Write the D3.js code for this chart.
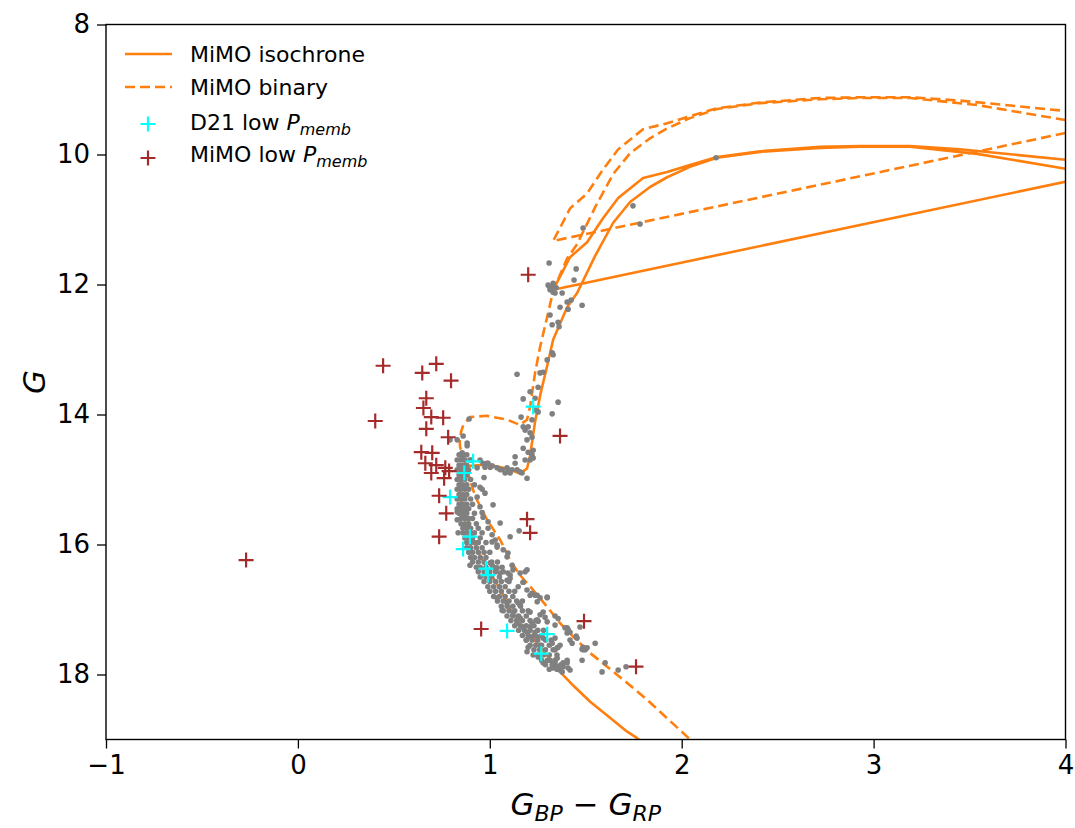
<!DOCTYPE html>
<html>
<head>
<meta charset="utf-8">
<script src="https://cdn.jsdelivr.net/npm/d3@7"></script>
<style>
body { margin: 0; background: #fff; }
svg text { font-family: "DejaVu Sans", sans-serif; fill: #000; }
</style>
</head>
<body>
<div id="cmd"></div>
<script>
// isochrone track [BP-RP, G] in path order (MS -> RGB -> tip, then clump -> AGB)
const isochrone = [
	[1.89, 19.30], [1.768, 18.98], [1.716, 18.88], [1.612, 18.63], [1.523, 18.42], [1.435, 18.17],
	[1.366, 17.96], [1.299, 17.71], [1.226, 17.45], [1.157, 17.22], [1.106, 16.99], [1.054, 16.68],
	[0.986, 16.37], [0.934, 16.07], [0.913, 15.91], [0.877, 15.56], [0.845, 15.25], [0.843, 15.15],
	[0.850, 15.02], [0.862, 14.91], [0.897, 14.79], [0.986, 14.77], [1.090, 14.83], [1.157, 14.91],
	[1.194, 14.83], [1.210, 14.63], [1.236, 14.11], [1.262, 13.71], [1.299, 13.25], [1.330, 12.85],
	[1.403, 12.35], [1.455, 12.13], [1.549, 11.56], [1.643, 11.05], [1.731, 10.73], [1.835, 10.50],
	[1.924, 10.35], [2.043, 10.19], [2.184, 10.05], [2.408, 9.96], [2.720, 9.90], [2.929, 9.88],
	[3.190, 9.88], [3.540, 9.99], [4.000, 10.22], [4.400, 10.17],
	[1.330, 12.08], [1.366, 11.88], [1.418, 11.58], [1.507, 11.35], [1.590, 10.98], [1.669, 10.67],
	[1.799, 10.36], [1.924, 10.27], [2.043, 10.16], [2.184, 10.04], [2.408, 9.95], [2.720, 9.88],
	[2.929, 9.87], [3.190, 9.87], [3.449, 9.92], [4.000, 10.08], [4.300, 10.13]
];

// equal-mass binary sequence
const binary = [
	[2.10, 19.12], [2.044, 19.00], [1.820, 18.39], [1.716, 18.13], [1.612, 17.88], [1.523, 17.67],
	[1.435, 17.42], [1.366, 17.21], [1.299, 16.96], [1.226, 16.70], [1.157, 16.47], [1.106, 16.24],
	[1.054, 15.93], [0.986, 15.62], [0.934, 15.32], [0.913, 15.16], [0.877, 14.81], [0.845, 14.50],
	[0.843, 14.40], [0.850, 14.27], [0.862, 14.16], [0.897, 14.04], [0.986, 14.02], [1.090, 14.08],
	[1.157, 14.16], [1.194, 14.08], [1.210, 13.88], [1.236, 13.36], [1.262, 12.96], [1.299, 12.50],
	[1.330, 12.10], [1.403, 11.60], [1.455, 11.38], [1.549, 10.81], [1.643, 10.30], [1.731, 9.98],
	[1.835, 9.75], [1.924, 9.60], [2.043, 9.44], [2.184, 9.30], [2.408, 9.21], [2.720, 9.15],
	[2.929, 9.13], [3.190, 9.13], [3.540, 9.24], [4.000, 9.47], [4.400, 9.42],
	[1.330, 11.33], [1.366, 11.13], [1.418, 10.83], [1.507, 10.60], [1.590, 10.23], [1.669, 9.92],
	[1.799, 9.61], [1.924, 9.52], [2.043, 9.41], [2.184, 9.29], [2.408, 9.20], [2.720, 9.13],
	[2.929, 9.12], [3.190, 9.12], [3.449, 9.17], [4.000, 9.33], [4.300, 9.38]
];

// cluster members (grey)
const members = [
	// giants, clump, subgiants
	[1.309, 11.67], [1.450, 11.76], [1.439, 11.93], [1.330, 11.98], [1.325, 12.04], [1.314, 12.08],
	[1.330, 12.12], [1.340, 12.13], [1.314, 12.05], [1.304, 12.01], [1.346, 12.05], [1.377, 12.13],
	[1.424, 12.24], [1.403, 12.27], [1.481, 12.32], [1.366, 12.35], [1.408, 12.38], [1.314, 12.47],
	[1.356, 12.58], [1.325, 12.62], [1.361, 12.65], [1.325, 13.05], [1.330, 13.08], [1.299, 13.16],
	[1.278, 13.35], [1.262, 13.36], [1.142, 13.38], [1.252, 13.58], [1.210, 13.65], [1.174, 13.76],
	[1.236, 13.75], [1.356, 13.81], [1.252, 13.96], [1.236, 13.93], [1.325, 13.99], [1.163, 14.04],
	[1.220, 14.08], [1.174, 14.19], [1.200, 14.19], [1.184, 14.24], [1.210, 14.28], [1.220, 14.35],
	[1.194, 14.39], [1.174, 14.52], [1.226, 14.55], [1.200, 14.58], [1.220, 14.62], [1.226, 14.67],
	[1.132, 14.65], [1.184, 14.70], [1.210, 14.70], [1.132, 14.75], [1.090, 14.82], [1.116, 14.85],
	[1.142, 14.85], [1.158, 14.88], [1.064, 14.85], [1.194, 14.98], [1.168, 14.90],
	[1.486, 11.13], [1.746, 10.79], [1.783, 11.07], [2.179, 10.05],
	// turnoff
	[0.892, 14.07], [0.830, 14.39], [0.861, 14.33], [0.882, 14.48], [0.850, 14.62], [0.793, 14.39],
	[0.991, 14.75], [1.012, 14.79], [1.038, 14.82], [1.054, 14.85], [1.080, 14.90], [1.106, 14.90],
	[0.965, 14.75], [0.949, 14.70], [0.975, 14.81], [0.934, 14.82], [0.970, 14.97], [0.949, 15.12],
	[0.960, 15.15], [0.975, 15.21], [0.934, 15.27], [0.949, 15.42], [1.017, 15.39], [0.960, 15.51],
	[0.965, 15.58], [0.991, 15.65], [1.054, 15.67], [0.991, 15.75], [1.012, 15.85], [1.153, 15.79],
	[1.028, 15.93], [1.038, 16.01], [1.070, 16.08], [0.897, 14.70], [0.856, 14.59], [0.856, 14.67],
	[0.882, 14.44], [0.986, 14.75], [1.002, 14.81], [1.095, 14.85], [0.830, 15.62], [0.835, 15.82],
	[0.897, 16.32], [1.106, 15.88], [1.038, 16.04], [1.090, 16.19], [1.116, 16.32], [1.121, 16.39],
	[1.158, 16.44], [1.194, 16.39], [1.038, 16.36], [1.002, 16.28], [1.106, 16.47], [0.830, 15.50],
	[0.861, 15.55],
	// lower main sequence
	[1.095, 16.13], [1.012, 15.96], [1.054, 16.44], [1.106, 16.52], [1.184, 16.42], [1.174, 16.58],
	[1.148, 16.65], [1.194, 16.70], [1.210, 16.78], [1.236, 16.78], [1.262, 16.82], [1.299, 16.82],
	[1.247, 16.88], [1.158, 16.93], [1.262, 17.08], [1.247, 17.16], [1.288, 17.12], [1.340, 17.24],
	[1.403, 17.28], [1.408, 17.35], [1.455, 17.44], [1.486, 17.58], [1.497, 17.62], [1.549, 17.52],
	[1.366, 17.55], [1.340, 17.44], [1.481, 17.78], [1.507, 17.59], [1.601, 17.82], [1.585, 17.96],
	[1.669, 17.93], [1.710, 17.88], [1.403, 17.82], [1.366, 17.93], [1.325, 17.85], [1.351, 17.88],
	[1.200, 17.58], [1.194, 17.65], [1.226, 17.70], [1.252, 17.73], [1.278, 17.82], [1.314, 17.78],
	[1.330, 17.90], [1.377, 17.96], [1.382, 17.82], [1.190, 17.47], [1.210, 17.42], [1.325, 17.52],
	[1.351, 17.59], [1.278, 17.44], [1.262, 17.55], [1.038, 16.82], [1.090, 16.90], [1.064, 17.01],
	[1.121, 17.08], [1.158, 17.13], [1.142, 17.21], [1.174, 17.27], [1.194, 17.35], [1.210, 17.27],
	[1.236, 17.35], [1.247, 17.42], [1.418, 17.47], [1.403, 17.36], [1.356, 17.58], [1.340, 17.62],
	[1.418, 17.93], [1.382, 17.88], [1.340, 17.82], [1.351, 17.75], [1.403, 17.78], [1.299, 17.19],
	[1.340, 17.10], [1.356, 17.14], [1.278, 17.04], [1.252, 17.18], [1.210, 17.04], [1.220, 17.22],
	[1.299, 16.81], [1.247, 16.78], [1.220, 16.75], [1.148, 16.90], [1.090, 16.55], [1.174, 16.58],
	[1.095, 16.44], [1.064, 16.35], [1.012, 16.32], [1.392, 17.28], [1.408, 17.31], [1.418, 17.35],
	[1.470, 17.27], [1.450, 17.41], [1.429, 17.52], [1.486, 17.62], [1.481, 17.61], [1.408, 17.90],
	// dense single-star band
	[0.84, 14.62], [0.86, 14.62], [0.88, 14.62], [0.83, 14.70], [0.85, 14.70], [0.87, 14.70], [0.90, 14.70],
	[0.84, 14.78], [0.86, 14.78], [0.88, 14.78], [0.83, 14.85], [0.85, 14.85], [0.87, 14.85], [0.89, 14.85],
	[0.84, 14.93], [0.86, 14.93], [0.88, 14.93], [0.83, 15.00], [0.85, 15.00], [0.87, 15.00], [0.90, 15.00],
	[0.84, 15.08], [0.86, 15.08], [0.88, 15.08], [0.92, 15.08], [0.83, 15.15], [0.85, 15.15], [0.87, 15.15],
	[0.89, 15.15], [0.84, 15.23], [0.86, 15.23], [0.88, 15.23], [0.83, 15.30], [0.85, 15.30], [0.87, 15.30],
	[0.90, 15.30], [0.84, 15.38], [0.86, 15.38], [0.88, 15.38], [0.91, 15.38], [0.83, 15.45], [0.85, 15.45],
	[0.87, 15.45], [0.89, 15.45], [0.84, 15.52], [0.86, 15.52], [0.88, 15.52], [0.92, 15.52], [0.85, 15.60],
	[0.87, 15.60], [0.89, 15.60], [0.91, 15.60], [0.85, 15.68], [0.87, 15.68], [0.89, 15.68], [0.93, 15.68],
	[0.86, 15.75], [0.88, 15.75], [0.90, 15.75], [0.94, 15.75], [0.86, 15.82], [0.88, 15.82], [0.90, 15.82],
	[0.92, 15.82], [0.96, 15.82], [0.87, 15.90], [0.89, 15.90], [0.91, 15.90], [0.95, 15.90], [0.88, 15.97],
	[0.90, 15.97], [0.92, 15.97], [0.94, 15.97], [0.98, 15.97], [0.88, 16.05], [0.90, 16.05], [0.93, 16.05],
	[0.96, 16.05], [0.89, 16.12], [0.91, 16.12], [0.94, 16.12], [0.97, 16.12], [1.00, 16.12], [0.90, 16.20],
	[0.92, 16.20], [0.95, 16.20], [0.98, 16.20], [0.91, 16.27], [0.94, 16.27], [0.97, 16.27], [1.01, 16.27],
	[1.04, 16.27], [0.93, 16.35], [0.95, 16.35], [0.98, 16.35], [1.02, 16.35], [0.94, 16.42], [0.97, 16.42],
	[1.00, 16.42], [1.03, 16.42], [1.07, 16.42], [0.95, 16.50], [0.98, 16.50], [1.01, 16.50], [1.05, 16.50],
	[0.97, 16.57], [1.00, 16.57], [1.03, 16.57], [1.06, 16.57], [1.10, 16.57], [0.99, 16.65], [1.02, 16.65],
	[1.05, 16.65], [1.08, 16.65], [1.00, 16.72], [1.03, 16.72], [1.06, 16.72], [1.10, 16.72], [1.13, 16.72],
	[1.02, 16.80], [1.05, 16.80], [1.08, 16.80], [1.12, 16.80], [1.04, 16.87], [1.07, 16.87], [1.10, 16.87],
	[1.14, 16.87], [1.17, 16.87], [1.06, 16.95], [1.09, 16.95], [1.12, 16.95], [1.16, 16.95], [1.07, 17.02],
	[1.10, 17.02], [1.13, 17.02], [1.17, 17.02], [1.20, 17.02], [1.09, 17.10], [1.12, 17.10], [1.15, 17.10],
	[1.19, 17.10], [1.11, 17.17], [1.14, 17.17], [1.17, 17.17], [1.21, 17.17], [1.24, 17.17], [1.13, 17.25],
	[1.16, 17.25], [1.19, 17.25], [1.23, 17.25], [1.15, 17.32], [1.18, 17.32], [1.21, 17.32], [1.25, 17.32],
	[1.28, 17.32], [1.17, 17.40], [1.20, 17.40], [1.23, 17.40], [1.27, 17.40], [1.19, 17.47], [1.22, 17.47],
	[1.25, 17.47], [1.29, 17.47], [1.32, 17.47], [1.21, 17.55], [1.24, 17.55], [1.27, 17.55], [1.31, 17.55],
	[1.23, 17.62], [1.26, 17.62], [1.29, 17.62], [1.33, 17.62], [1.25, 17.70], [1.28, 17.70], [1.31, 17.70],
	[1.35, 17.70], [1.27, 17.78], [1.30, 17.78], [1.34, 17.78], [1.29, 17.85], [1.33, 17.85], [1.37, 17.85],
	[1.31, 17.92], [1.35, 17.92]
];

// low membership probability, Dias+21
const lowD21 = [
	[1.226, 13.88], [0.913, 14.72], [0.867, 14.90], [0.793, 15.27], [0.897, 15.88], [0.861, 16.07],
	[0.980, 16.37], [0.991, 16.47], [1.090, 17.33], [1.299, 17.38], [1.268, 17.68]
];

// low membership probability, MiMO
const lowMimo = [
	[1.200, 11.85], [0.444, 13.25], [0.721, 13.22], [0.648, 13.36], [0.798, 13.48], [0.403, 14.10],
	[0.669, 13.75], [0.654, 13.90], [0.695, 14.04], [0.757, 14.05], [0.669, 14.22], [0.783, 14.35],
	[1.366, 14.33], [0.643, 14.58], [0.700, 14.59], [0.664, 14.75], [0.721, 14.78], [0.695, 14.90],
	[0.768, 14.82], [0.788, 14.87], [0.762, 14.98], [0.736, 15.25], [0.773, 15.52], [0.736, 15.88],
	[1.194, 15.61], [1.210, 15.82], [-0.270, 16.24], [0.955, 17.30], [1.491, 17.18], [1.762, 17.88]
];

const xTicks = [-1, 0, 1, 2, 3, 4];
const yTicks = [8, 10, 12, 14, 16, 18];

const orange = '#ff7f0e';
const crossPath = 'M-7.5,0H7.5M0,-7.5V7.5';

const svg = d3.select('#cmd').append('svg').attr('width', 1075).attr('height', 828);

const x = d3.scaleLinear().domain([-1, 4]).range([106, 1065.5]);
const y = d3.scaleLinear().domain([8, 19]).range([24.5, 739.5]);

svg.append('defs').append('clipPath').attr('id', 'plotClip')
	.append('rect')
	.attr('x', x(-1)).attr('y', y(8))
	.attr('width', x(4) - x(-1)).attr('height', y(19) - y(8));

const plot = svg.append('g').attr('clip-path', 'url(#plotClip)');

const line = d3.line()
	.x(function (d) { return x(d[0]); })
	.y(function (d) { return y(d[1]); });

plot.append('path').datum(isochrone)
	.attr('d', line).attr('fill', 'none')
	.attr('stroke', orange).attr('stroke-width', 2.6).attr('stroke-linejoin', 'round');

plot.append('path').datum(binary)
	.attr('d', line).attr('fill', 'none')
	.attr('stroke', orange).attr('stroke-width', 2.6).attr('stroke-dasharray', '10,5');

plot.append('g').selectAll('circle')
	.data(members).join('circle')
	.attr('cx', function (d) { return x(d[0]); })
	.attr('cy', function (d) { return y(d[1]); })
	.attr('r', 2.8)
	.attr('fill', '#808080');

plot.append('g').selectAll('path')
	.data(lowD21).join('path')
	.attr('d', crossPath)
	.attr('transform', function (d) { return 'translate(' + x(d[0]) + ',' + y(d[1]) + ')'; })
	.attr('stroke', '#00ffff').attr('stroke-width', 2.2).attr('fill', 'none');

plot.append('g').selectAll('path')
	.data(lowMimo).join('path')
	.attr('d', crossPath)
	.attr('transform', function (d) { return 'translate(' + x(d[0]) + ',' + y(d[1]) + ')'; })
	.attr('stroke', '#a52a2a').attr('stroke-width', 2.2).attr('fill', 'none');

// axes
const xAxis = d3.axisBottom(x).tickValues(xTicks).tickSize(9).tickPadding(7)
	.tickFormat(function (d) { return d < 0 ? '\u2212' + Math.abs(d) : d; });
const yAxis = d3.axisLeft(y).tickValues(yTicks).tickSize(9).tickPadding(7);

const gx = svg.append('g').attr('transform', 'translate(0,' + y(19) + ')').call(xAxis);
const gy = svg.append('g').attr('transform', 'translate(' + x(-1) + ',0)').call(yAxis);

[gx, gy].forEach(function (g) {
	g.select('.domain').remove();
	g.selectAll('.tick line').attr('stroke', '#000').attr('stroke-width', 1.3);
	g.selectAll('.tick text').style('font-size', '26px').style('font-family', 'DejaVu Sans').attr('fill', '#000');
});

svg.append('rect')
	.attr('x', x(-1)).attr('y', y(8))
	.attr('width', x(4) - x(-1)).attr('height', y(19) - y(8))
	.attr('fill', 'none').attr('stroke', '#000').attr('stroke-width', 1.4);

// axis labels
const xl = svg.append('text').attr('x', (x(-1) + x(4)) / 2).attr('y', 815)
	.attr('text-anchor', 'middle').style('font-size', '31px');
xl.append('tspan').attr('font-style', 'italic').text('G');
xl.append('tspan').attr('font-style', 'italic').attr('font-size', '22px').attr('dy', 6).text('BP');
xl.append('tspan').attr('dy', -6).text(' \u2212 ');
xl.append('tspan').attr('font-style', 'italic').text('G');
xl.append('tspan').attr('font-style', 'italic').attr('font-size', '22px').attr('dy', 6).text('RP');

svg.append('text')
	.attr('transform', 'translate(45,' + (y(8) + y(19)) / 2 + ') rotate(-90)')
	.attr('text-anchor', 'middle')
	.attr('font-style', 'italic')
	.style('font-size', '31px')
	.text('G');

// legend
const legend = svg.append('g');
legend.append('line').attr('x1', 125).attr('x2', 172).attr('y1', 54).attr('y2', 54)
	.attr('stroke', orange).attr('stroke-width', 2.6);
legend.append('line').attr('x1', 125).attr('x2', 172).attr('y1', 87).attr('y2', 87)
	.attr('stroke', orange).attr('stroke-width', 2.6).attr('stroke-dasharray', '10,5');
legend.append('path').attr('d', crossPath).attr('transform', 'translate(148,124)')
	.attr('stroke', '#00ffff').attr('stroke-width', 2.2);
legend.append('path').attr('d', crossPath).attr('transform', 'translate(148,158)')
	.attr('stroke', '#a52a2a').attr('stroke-width', 2.2);

const legendText = [
	{ y: 62, main: 'MiMO isochrone', sub: null },
	{ y: 94.5, main: 'MiMO binary', sub: null },
	{ y: 129.5, main: 'D21 low ', sub: 'memb' },
	{ y: 162, main: 'MiMO low ', sub: 'memb' }
];
legendText.forEach(function (d) {
	const t = legend.append('text').attr('x', 190).attr('y', d.y).style('font-size', '22px');
	t.append('tspan').text(d.main);
	if (d.sub) {
		t.append('tspan').attr('font-style', 'italic').text('P');
		t.append('tspan').attr('font-style', 'italic').attr('font-size', '16px').attr('dy', 5).text(d.sub);
	}
});
</script>
</body>
</html>
